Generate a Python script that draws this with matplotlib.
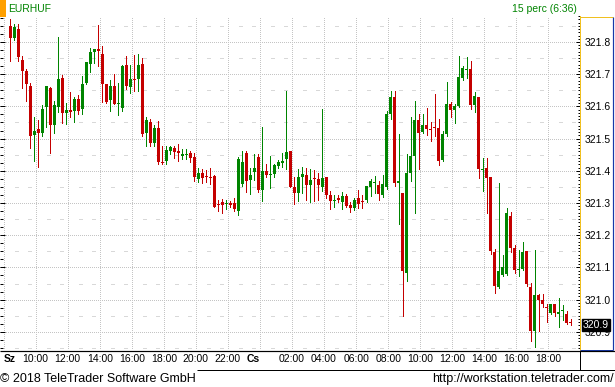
import numpy as np
import matplotlib
matplotlib.use("Agg")
import matplotlib.pyplot as plt
from matplotlib.ticker import MultipleLocator, FixedLocator
import matplotlib.transforms as mtransforms

plt.rcParams['font.family'] = ['Liberation Sans', 'DejaVu Sans']

# ---------------- data (EURHUF, 15-minute candles) ----------------
opens = [321.850, 321.811, 321.840, 321.744, 321.711, 321.663, 321.511, 321.530, 321.518, 321.599,
         321.658, 321.542, 321.599, 321.689, 321.580, 321.589, 321.586, 321.624, 321.592, 321.672,
         321.732, 321.768, 321.779, 321.763, 321.670, 321.620, 321.663, 321.607, 321.596, 321.729,
         321.661, 321.685, 321.684, 321.732, 321.518, 321.552, 321.487, 321.533, 321.428, 321.431,
         321.462, 321.472, 321.461, 321.447, 321.450, 321.456, 321.443, 321.375, 321.392, 321.385,
         321.382, 321.384, 321.298, 321.304, 321.296, 321.301, 321.300, 321.276, 321.359, 321.456,
         321.371, 321.396, 321.442, 321.341, 321.399, 321.387, 321.391, 321.416, 321.424, 321.437,
         321.461, 321.350, 321.331, 321.381, 321.387, 321.356, 321.378, 321.375, 321.350, 321.381,
         321.325, 321.307, 321.316, 321.303, 321.322, 321.294, 321.285, 321.316, 321.307, 321.309,
         321.350, 321.362, 321.356, 321.325, 321.350, 321.576, 321.629, 321.363, 321.331, 321.084,
         321.393, 321.446, 321.558, 321.521, 321.542, 321.531, 321.536, 321.533, 321.434, 321.514,
         321.607, 321.589, 321.601, 321.688, 321.713, 321.716, 321.604, 321.629, 321.402, 321.409,
         321.381, 321.148, 321.039, 321.076, 321.080, 321.260, 321.160, 321.092, 321.095, 321.151,
         321.040, 320.903, 321.014, 320.999, 320.977, 320.959, 320.986, 320.955, 320.966, 320.955,
         320.931]
highs = [321.871, 321.856, 321.856, 321.757, 321.716, 321.673, 321.568, 321.558, 321.604, 321.663,
         321.661, 321.617, 321.815, 321.698, 321.611, 321.645, 321.629, 321.635, 321.694, 321.739,
         321.781, 321.779, 321.853, 321.787, 321.670, 321.682, 321.701, 321.672, 321.729, 321.757,
         321.729, 321.760, 321.762, 321.749, 321.568, 321.561, 321.542, 321.555, 321.477, 321.477,
         321.477, 321.477, 321.483, 321.467, 321.468, 321.461, 321.454, 321.408, 321.406, 321.402,
         321.409, 321.386, 321.309, 321.311, 321.309, 321.307, 321.316, 321.442, 321.462, 321.461,
         321.410, 321.452, 321.452, 321.536, 321.421, 321.446, 321.422, 321.433, 321.454, 321.648,
         321.461, 321.381, 321.406, 321.411, 321.409, 321.406, 321.402, 321.394, 321.592, 321.381,
         321.337, 321.325, 321.325, 321.334, 321.328, 321.303, 321.316, 321.340, 321.325, 321.353,
         321.375, 321.385, 321.368, 321.387, 321.587, 321.648, 321.648, 321.514, 321.331, 321.452,
         321.567, 321.617, 321.576, 321.576, 321.595, 321.552, 321.639, 321.561, 321.524, 321.676,
         321.614, 321.607, 321.757, 321.725, 321.753, 321.741, 321.645, 321.629, 321.440, 321.440,
         321.381, 321.157, 321.362, 321.139, 321.284, 321.272, 321.170, 321.154, 321.179, 321.151,
         321.051, 321.154, 321.017, 321.017, 320.986, 320.986, 320.986, 321.005, 320.983, 320.965,
         320.940]
lows = [321.742, 321.806, 321.742, 321.658, 321.617, 321.472, 321.431, 321.413, 321.509, 321.537,
        321.456, 321.517, 321.584, 321.549, 321.545, 321.568, 321.552, 321.576, 321.575, 321.670,
        321.707, 321.736, 321.725, 321.615, 321.610, 321.586, 321.607, 321.573, 321.587, 321.654,
        321.641, 321.649, 321.648, 321.508, 321.478, 321.478, 321.478, 321.421, 321.421, 321.421,
        321.451, 321.439, 321.431, 321.437, 321.437, 321.428, 321.369, 321.366, 321.363, 321.366,
        321.360, 321.289, 321.276, 321.270, 321.282, 321.289, 321.276, 321.263, 321.353, 321.334,
        321.328, 321.371, 321.334, 321.307, 321.381, 321.348, 321.382, 321.410, 321.411, 321.407,
        321.351, 321.298, 321.307, 321.331, 321.309, 321.303, 321.307, 321.309, 321.337, 321.316,
        321.282, 321.289, 321.303, 321.282, 321.289, 321.273, 321.278, 321.285, 321.285, 321.303,
        321.322, 321.331, 321.309, 321.319, 321.343, 321.561, 321.354, 321.236, 320.949, 321.059,
        321.369, 321.270, 321.406, 321.518, 321.511, 321.493, 321.508, 321.418, 321.430, 321.508,
        321.567, 321.548, 321.598, 321.682, 321.688, 321.592, 321.583, 321.378, 321.337, 321.269,
        321.142, 321.020, 321.036, 321.073, 321.076, 321.148, 321.083, 321.073, 321.092, 321.042,
        320.871, 320.854, 320.903, 320.976, 320.931, 320.955, 320.949, 320.916, 320.937, 320.924,
        320.921]
closes = [321.813, 321.848, 321.754, 321.711, 321.670, 321.509, 321.524, 321.518, 321.592, 321.663,
          321.542, 321.604, 321.685, 321.580, 321.589, 321.584, 321.624, 321.586, 321.670, 321.739,
          321.770, 321.777, 321.773, 321.670, 321.615, 321.663, 321.607, 321.611, 321.726, 321.664,
          321.685, 321.683, 321.729, 321.514, 321.558, 321.487, 321.533, 321.426, 321.424, 321.465,
          321.473, 321.459, 321.454, 321.451, 321.452, 321.441, 321.382, 321.392, 321.378, 321.382,
          321.379, 321.289, 321.293, 321.294, 321.299, 321.294, 321.281, 321.437, 321.427, 321.369,
          321.387, 321.408, 321.340, 321.399, 321.387, 321.390, 321.418, 321.427, 321.431, 321.458,
          321.351, 321.331, 321.381, 321.390, 321.356, 321.371, 321.375, 321.356, 321.378, 321.325,
          321.307, 321.309, 321.309, 321.322, 321.291, 321.285, 321.309, 321.297, 321.303, 321.353,
          321.368, 321.364, 321.328, 321.359, 321.577, 321.629, 321.363, 321.367, 321.090, 321.393,
          321.446, 321.558, 321.518, 321.542, 321.531, 321.528, 321.533, 321.430, 321.514, 321.607,
          321.589, 321.601, 321.691, 321.719, 321.716, 321.604, 321.632, 321.406, 321.406, 321.378,
          321.151, 321.042, 321.089, 321.101, 321.269, 321.160, 321.092, 321.095, 321.148, 321.048,
          320.903, 321.014, 320.999, 320.986, 320.975, 320.986, 320.959, 320.961, 320.968, 320.928,
          320.928]

x_labels = ["Sz", "10:00", "12:00", "14:00", "16:00", "18:00", "20:00", "22:00",
            "Cs", "02:00", "04:00", "06:00", "08:00", "10:00", "12:00", "14:00", "16:00", "18:00"]
y_ticks = [320.9, 321.0, 321.1, 321.2, 321.3, 321.4, 321.5, 321.6, 321.7, 321.8]
symbol = "EURHUF"
period_text = "15 perc (6:36)"
copyright_text = "\u00a9 2018 TeleTrader Software GmbH"
url_text = "http://workstation.teletrader.com/"

# ---------------- figure ----------------
W, H = 615, 387
fig = plt.figure(figsize=(W / 100, H / 100), dpi=100, facecolor='white')

px_left, px_right, px_top, px_bottom = 0, 580, 16, 350
ax = fig.add_axes([px_left / W, 1 - px_bottom / H, (px_right - px_left) / W, (px_bottom - px_top) / H])
ax.set_facecolor('white')

RED = '#c40000'
GREEN = '#008400'
GRID = '#c4c4c4'
PX = 0.72  # 1 pixel in points

o = np.array(opens); h = np.array(highs); l = np.array(lows); c = np.array(closes)
idx = np.arange(len(o))
colors = np.where(c >= o, GREEN, RED)

xmin, xmax = -2.5, 142.3
ymin, ymax = 320.8435, 321.8807
ax.set_xlim(xmin, xmax)
ax.set_ylim(ymin, ymax)

tick_pos = np.arange(len(x_labels)) * 8 - 1.6

# grid: dotted at each 0.1 and every 2 hours; dashed at the 0.05 mid levels
for v in y_ticks:
    ax.axhline(v, color=GRID, lw=PX, linestyle=(0, (1, 2)), antialiased=False, zorder=0)
mids = list(np.array(y_ticks) - 0.05) + [y_ticks[-1] + 0.05]
for v in mids:
    ax.axhline(v, color='#d8d8d8', lw=PX, linestyle=(17.4, (3.5, 10, 3.5, 15.1)), antialiased=False, zorder=0)
for xp in tick_pos:
    ax.axvline(xp, color=GRID, lw=PX, linestyle=(0, (1, 2)), antialiased=False, zorder=0)

# candles
ax.vlines(idx, l, h, colors=colors, linewidth=PX, antialiased=False, zorder=2)
body_bot = np.minimum(o, c)
body_h = np.maximum(np.abs(c - o), 0.0031)
ax.bar(idx, body_h, bottom=body_bot, width=0.75, color=colors, linewidth=0, antialiased=False, zorder=3)

for s in ax.spines.values():
    s.set_visible(False)

# left edge ticks
ax.yaxis.set_major_locator(FixedLocator(y_ticks))
ax.yaxis.set_minor_locator(MultipleLocator(0.025))
ax.tick_params(axis='y', which='major', direction='in', length=5 * PX, width=PX, color='black', labelleft=False)
ax.tick_params(axis='y', which='minor', direction='in', length=2.7 * PX, width=PX, color='black')

# x labels
ax.set_xticks(tick_pos)
ax.set_xticklabels(x_labels)
ax.tick_params(axis='x', length=0, pad=3.1, labelsize=7.5, labelcolor='black')
tl = ax.get_xticklabels()
tl[0].set_ha('left'); tl[0].set_fontweight('bold')
tl[8].set_ha('right'); tl[8].set_fontweight('bold')
ax.set_xlim(xmin, xmax)

# right price axis
ax_r = ax.twinx()
ax_r.set_ylim(ymin, ymax)
ax_r.yaxis.set_major_locator(FixedLocator(y_ticks))
ax_r.set_yticklabels([f"{v:.1f}" for v in y_ticks])
ax_r.yaxis.set_minor_locator(MultipleLocator(0.01))
ax_r.tick_params(axis='y', which='major', direction='in', length=4 * PX, width=PX, color='black',
                 pad=3, labelsize=7.5, labelcolor='black')
ax_r.tick_params(axis='y', which='minor', direction='in', length=2 * PX, width=PX, color='black')
for name, s in ax_r.spines.items():
    s.set_visible(name == 'right')
ax_r.spines['right'].set_color('#f0c020')
ax_r.spines['right'].set_linewidth(PX)

# last price box
trans = mtransforms.offset_copy(mtransforms.blended_transform_factory(ax_r.transAxes, ax_r.transData),
                                fig=fig, x=3, y=-2, units='dots')
ax_r.text(1.0, closes[-1], f"{closes[-1]:.1f}", transform=trans, ha='left', va='center',
          fontsize=7.5, color='white', zorder=10, clip_on=False,
          bbox=dict(boxstyle='square,pad=0.12', fc='black', ec='black'))

# ---------------- overlay (frame, header, footer) ----------------
ov = fig.add_axes([0, 0, 1, 1], zorder=5)
ov.set_xlim(0, W); ov.set_ylim(H, 0)
ov.axis('off')
ov.patch.set_alpha(0)

ov.add_patch(plt.Rectangle((0, 0), 6, 16.5, color='#ffa000', lw=0))
ov.text(8, 8.5, symbol, fontsize=7.5, color=GREEN, ha='left', va='center')
ov.text(577, 8.5, period_text, fontsize=7.5, color=GREEN, ha='right', va='center')

ov.plot([580, 613], [16.5, 16.5], color='#f0c020', lw=PX, solid_capstyle='butt')
ov.plot([613, 613], [16.5, 350], color='#1838a8', lw=1.2 * PX, solid_capstyle='butt')
ov.plot([580, 613], [349.8, 349.8], color='#1838a8', lw=PX, solid_capstyle='butt')

ov.plot([0, W], [350.8, 350.8], color='black', lw=1.2 * PX, solid_capstyle='butt')
ov.plot([197, W], [369.8, 369.8], color='black', lw=PX, solid_capstyle='butt')
ov.plot([579.5, 579.5], [350.8, 369.8], color='black', lw=PX, solid_capstyle='butt')
ov.plot([614.5, 614.5], [350.8, 369.8], color='black', lw=PX, solid_capstyle='butt')

ov.text(0, 382, copyright_text, fontsize=9, color='black', ha='left', va='baseline')
ov.text(614, 382, url_text, fontsize=9, color='black', ha='right', va='baseline')

fig.savefig('out.png', dpi=100, facecolor='white')
